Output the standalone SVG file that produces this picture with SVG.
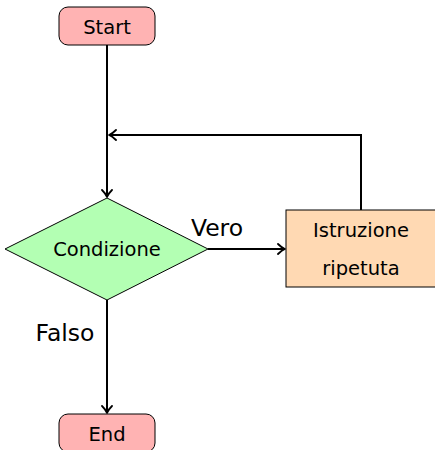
<svg xmlns="http://www.w3.org/2000/svg" width="435" height="450" viewBox="0 0 435 450">
<defs>
<marker id="arr" markerWidth="12" markerHeight="12" refX="0" refY="0" viewBox="-8 -6 10 12" orient="auto" markerUnits="userSpaceOnUse">
<path d="M-7,-5 Q-3,-1 0,0 Q-3,1 -7,5" fill="none" stroke="#000" stroke-width="1.8" stroke-linecap="round" stroke-linejoin="round"/>
</marker>
<style>
.ln{fill:none;stroke:#000;stroke-width:2}
.nd{stroke:#000;stroke-width:1}
.t{font-family:"DejaVu Sans",sans-serif;font-size:19.5px;fill:#000;text-anchor:middle;dominant-baseline:central}
.lb{font-family:"DejaVu Sans",sans-serif;font-size:23.5px;fill:#000;text-anchor:middle;dominant-baseline:central}
</style>
</defs>
<g id="connectors">
<path class="ln" d="M107,45 V197" marker-end="url(#arr)"/>
<path class="ln" d="M208,249 H285" marker-end="url(#arr)"/>
<path class="ln" d="M361,210 V135 H109" marker-end="url(#arr)"/>
<path class="ln" d="M107,300 V413" marker-end="url(#arr)"/>
<text class="lb" x="217" y="228">Vero</text>
<text class="lb" x="65" y="333">Falso</text>
</g>
<g id="start">
<rect class="nd" x="59" y="7" width="96" height="38" rx="9" fill="#ffb3b3"/>
<text class="t" x="107" y="27">Start</text>
</g>
<g id="condizione">
<polygon class="nd" points="107,198 208,249 107,300 5,249" fill="#b3ffb3"/>
<text class="t" x="107" y="249">Condizione</text>
</g>
<g id="istruzione">
<rect class="nd" x="286" y="210" width="152" height="77" fill="#ffd9b3"/>
<text class="t" x="361" y="230">Istruzione</text>
<text class="t" x="361" y="268">ripetuta</text>
</g>
<g id="end">
<rect class="nd" x="59" y="414" width="96" height="38" rx="9" fill="#ffb3b3"/>
<text class="t" x="107" y="434">End</text>
</g>
</svg>
